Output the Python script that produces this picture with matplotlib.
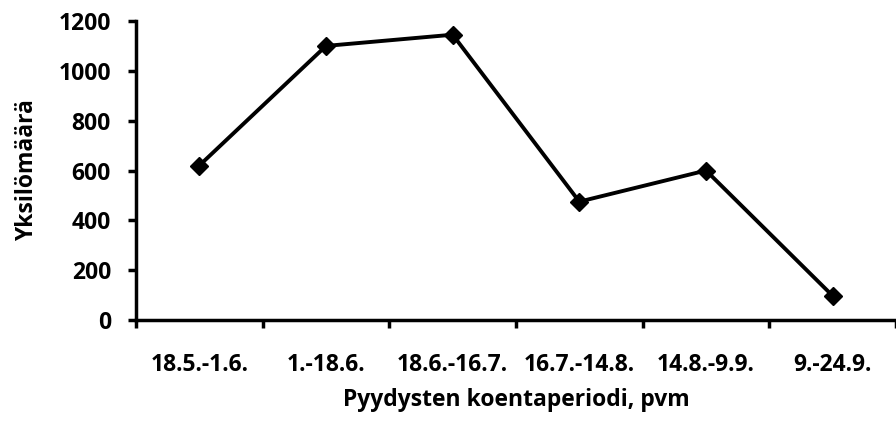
import matplotlib
matplotlib.use('Agg')
import matplotlib.pyplot as plt
import numpy as np

periods = ['18.5.-1.6.', '1.-18.6.', '18.6.-16.7.', '16.7.-14.8.', '14.8.-9.9.', '9.-24.9.']
counts = [620, 1100, 1145, 475, 600, 97]

plt.rcParams['font.family'] = ['Open Sans', 'DejaVu Sans']
plt.rcParams['font.weight'] = 'bold'
fs = 16.5

fig = plt.figure(figsize=(8.96, 4.32), dpi=100)
ax = fig.add_axes([136/896, 1 - 320/432, 1 - 136/896, (320 - 21)/432])

x = np.arange(len(periods))
ax.plot(x, counts, color='black', lw=2.8, marker='D', markersize=9,
        markerfacecolor='black', markeredgecolor='black', clip_on=False)

ax.set_xlim(-0.5, len(periods) - 0.53)
ax.set_ylim(0, 1200)
ax.set_yticks(range(0, 1201, 200))
ax.set_xticks(x)
ax.set_xticklabels(periods, fontsize=fs, fontweight='bold')
ax.set_xticks(np.arange(-0.5, len(periods), 1.0), minor=True)
ax.tick_params(axis='x', which='major', length=0, pad=24)
ax.tick_params(axis='x', which='minor', length=6, width=2.5, direction='out')
ax.tick_params(axis='y', length=6, width=2.5, direction='out', pad=12, labelsize=fs)
for lbl in ax.get_yticklabels():
    lbl.set_fontweight('bold')

for s in ['top', 'right']:
    ax.spines[s].set_visible(False)
for s in ['left', 'bottom']:
    ax.spines[s].set_linewidth(2.5)

ax.set_ylabel('Yksilömäärä', fontsize=fs, fontweight='bold', labelpad=14)
ax.set_xlabel('Pyydysten koentaperiodi, pvm', fontsize=fs, fontweight='bold', labelpad=8)

fig.savefig('out.png', dpi=100, facecolor='white')
